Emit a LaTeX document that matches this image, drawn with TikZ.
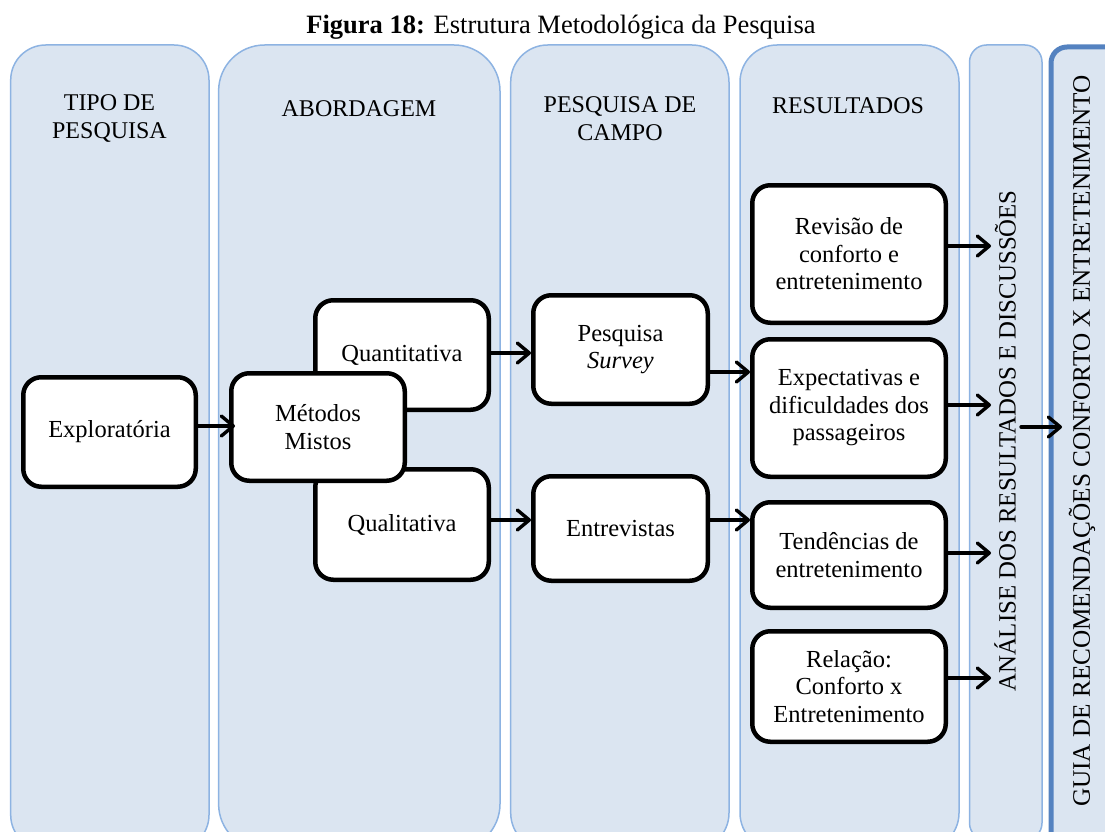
\documentclass[tikz,border=0pt]{standalone}
\usepackage{fontspec}
\setmainfont{Liberation Serif}
\usetikzlibrary{arrows.meta}

\definecolor{lanefill}{RGB}{219,229,241}
\definecolor{laneedge}{RGB}{141,179,226}
\definecolor{guideedge}{RGB}{84,130,192}

\newcommand\titlefont{\fontsize{26.5}{31}\selectfont}
\newcommand\headfont{\fontsize{24}{28}\selectfont}
\newcommand\stepfont{\fontsize{24.5}{27.5}\selectfont}
\newcommand\sidefont{\fontsize{24.8}{28}\selectfont}
\newcommand\guidefont{\fontsize{25.2}{28}\selectfont}

\begin{document}
\begin{tikzpicture}[x=1pt,y=-1pt,
  lane/.style={fill=lanefill,draw=laneedge,line width=1.5pt},
  guidelane/.style={fill=lanefill,draw=guideedge,line width=5pt},
  header/.style={align=center,font=\headfont,inner sep=0pt},
  stepbox/.style={draw=black,fill=white,line width=4.5pt,rounded corners=18pt,
    align=center,inner sep=2pt,font=\stepfont},
  sidetext/.style={rotate=90,inner sep=0pt},
  flow/.style={line width=3.4pt,line cap=round,
    -{Straight Barb[length=12pt,width=20pt,line cap=round,line join=round]}}]

\useasboundingbox (0,0) rectangle (1105,832);

% title
\node[anchor=base,font=\titlefont,inner sep=0pt] (title) at (561,34)
  {\textbf{Figura 18:} Estrutura Metodológica da Pesquisa};

% swim lanes
\begin{scope}
  \clip (0,0) rectangle (1105,832);
  \draw[lane,rounded corners=35pt] (10.7,45) rectangle (209,850);
  \draw[lane,rounded corners=46pt] (218.6,45) rectangle (500,850);
  \draw[lane,rounded corners=37pt] (510.7,45) rectangle (729,850);
  \draw[lane,rounded corners=37pt] (740,45) rectangle (959,850);
  \draw[lane,rounded corners=17pt] (969.5,45) rectangle (1042,840);
  \draw[guidelane,rounded corners=16pt] (1051,47) rectangle (1150,850);
\end{scope}

% lane headings
\node[header] (h1) at (109.5,119) {TIPO DE\\PESQUISA};
\node[header] (h2) at (359,108.5) {ABORDAGEM};
\node[header] (h3) at (620,119) {PESQUISA DE\\CAMPO};
\node[header] (h4) at (848,105.5) {RESULTADOS};

\node[sidetext,font=\sidefont] (analise) at (1005,441) {ANÁLISE DOS RESULTADOS E DISCUSSÕES};
\node[sidetext,font=\guidefont] (guia) at (1082,441) {GUIA DE RECOMENDAÇÕES CONFORTO X ENTRETENIMENTO};

% process boxes
\node[stepbox,minimum width=172.5pt,minimum height=109.5pt] (expl) at (109.5,432) {Exploratória};
\node[stepbox,minimum width=173.5pt,minimum height=109.5pt] (quant) at (402,355) {Quantitativa};
\node[stepbox,minimum width=173.5pt,minimum height=110.5pt] (qual) at (402,524.5) {Qualitativa};
\node[stepbox,minimum width=173.5pt,minimum height=107.5pt] (metodos) at (318,427) {Métodos\\Mistos};
\node[stepbox,minimum width=174.5pt,minimum height=108.5pt] (survey) at (620.5,349.5) {Pesquisa\\\textit{Survey}};
\node[stepbox,minimum width=174.5pt,minimum height=104.5pt] (entrev) at (620.5,528.5) {Entrevistas};
\node[stepbox,minimum width=193.5pt,minimum height=137.5pt] (revisao) at (849,254) {Revisão de\\conforto e\\entretenimento};
\node[stepbox,minimum width=193.5pt,minimum height=137.5pt] (expect) at (849,408) {Expectativas e\\dificuldades dos\\passageiros};
\node[stepbox,minimum width=193.5pt,minimum height=105.5pt] (tend) at (849,555) {Tendências de\\entretenimento};
\node[stepbox,minimum width=193.5pt,minimum height=110.5pt] (relacao) at (849,686.5) {Relação:\\Conforto x\\Entretenimento};

% free arrow ends
\coordinate (in1) at (991,246);
\coordinate (in2) at (991,405);
\coordinate (in3) at (991,553);
\coordinate (in4) at (991,678);
\coordinate (outA) at (1021,427);
\coordinate (inG) at (1062,427);

% connectors
\draw[flow] (expl.east |- 0,426) -- ([xshift=6pt]metodos.west |- 0,426);
\draw[flow] (quant.east |- 0,353) -- (survey.west |- 0,353);
\draw[flow] (qual.east |- 0,520) -- (entrev.west |- 0,520);
\draw[flow] (survey.east |- 0,372) -- (expect.west |- 0,372);
\draw[flow] (entrev.east |- 0,520) -- (tend.west |- 0,520);
\draw[flow] (revisao.east |- in1) -- (in1);
\draw[flow] (expect.east |- in2) -- (in2);
\draw[flow] (tend.east |- in3) -- (in3);
\draw[flow] (relacao.east |- in4) -- (in4);
\draw[flow] (outA) -- (inG);

\end{tikzpicture}
\end{document}
